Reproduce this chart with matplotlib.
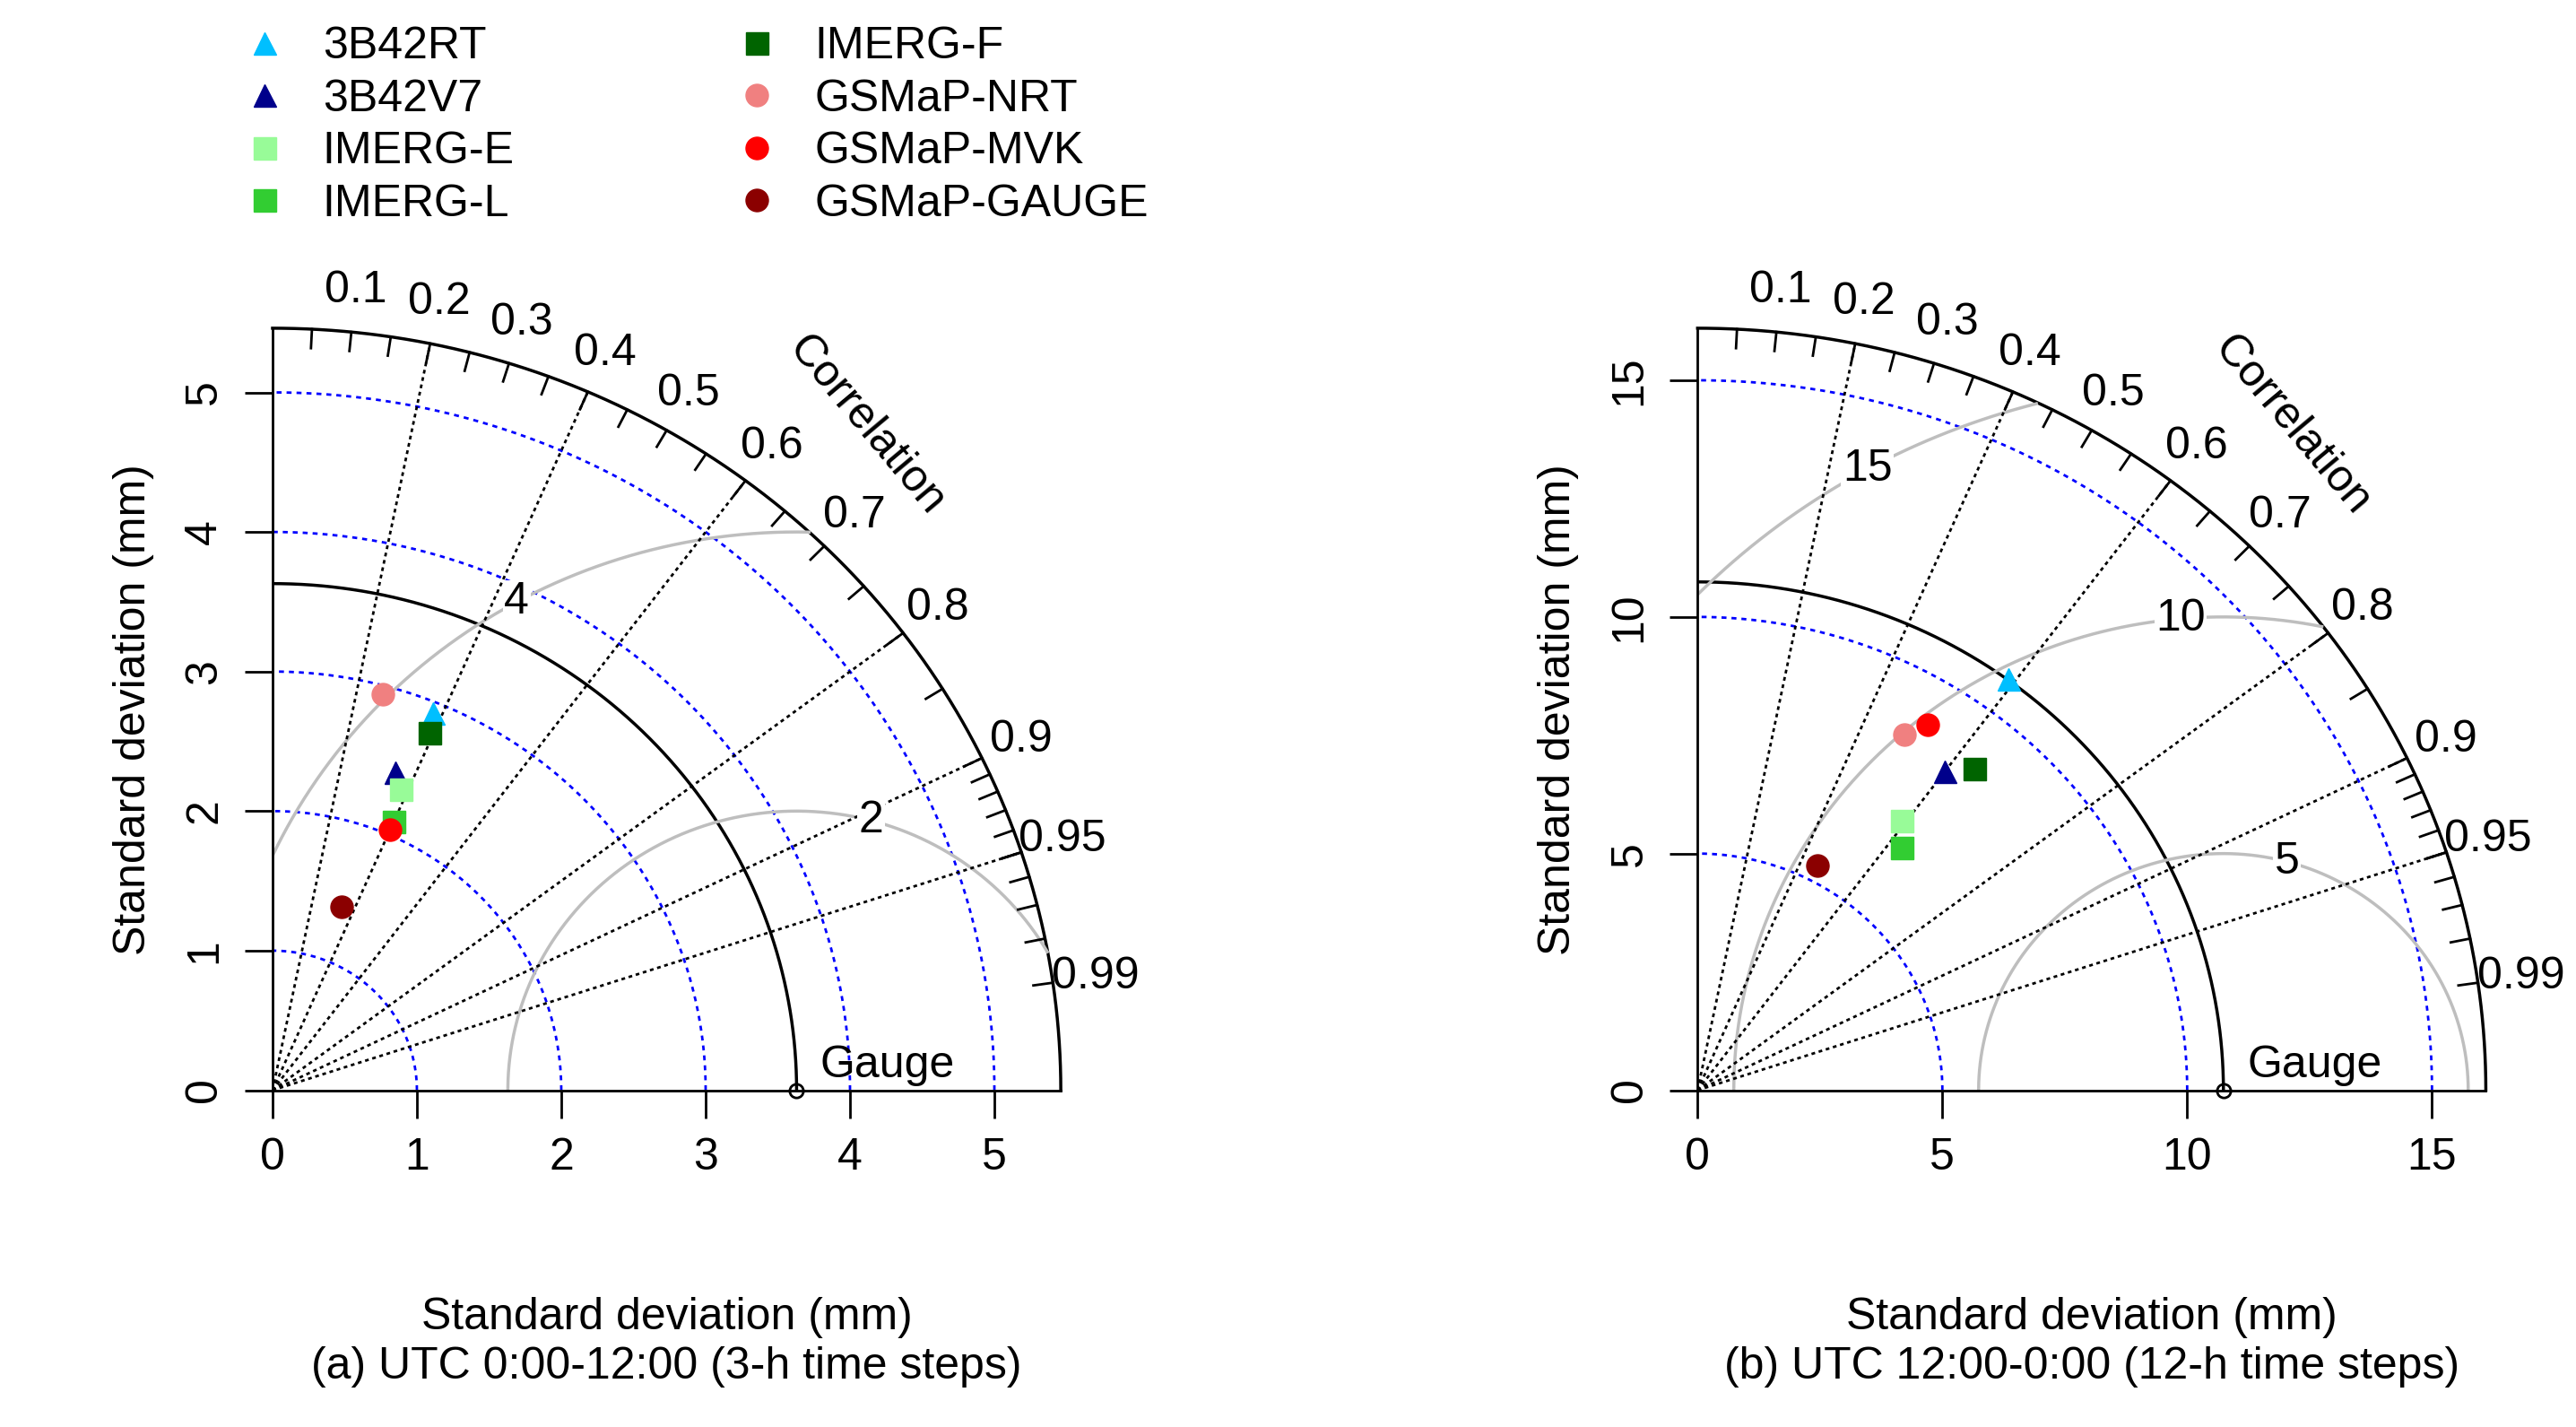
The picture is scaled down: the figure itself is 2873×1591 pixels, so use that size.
import numpy as np
import matplotlib
matplotlib.use("Agg")
import matplotlib.pyplot as plt
from matplotlib.lines import Line2D

plt.rcParams['font.family'] = ['Liberation Sans', 'DejaVu Sans']

names = ["3B42RT", "3B42V7", "IMERG-E", "IMERG-L", "IMERG-F", "GSMaP-NRT", "GSMaP-MVK", "GSMaP-GAUGE"]
colors = ["#00BFFF", "#00008B", "#98FB98", "#32CD32", "#006400", "#F08080", "#FF0000", "#8B0000"]
markers = ["^", "^", "s", "s", "s", "o", "o", "o"]

sd_a = [2.92, 2.43, 2.33, 2.10, 2.78, 2.94, 2.04, 1.40]
r_a = [0.38, 0.35, 0.38, 0.40, 0.39, 0.26, 0.40, 0.34]
ref_a = 3.63
sd_b = [10.76, 8.43, 7.06, 6.61, 8.83, 8.61, 9.05, 5.34]
r_b = [0.59, 0.60, 0.59, 0.63, 0.64, 0.49, 0.52, 0.46]
ref_b = 10.74

panels = [
    dict(sd=sd_a, r=r_a, ref=ref_a, rmax=5.46, ticks=[0, 1, 2, 3, 4, 5], arcs=[1, 2, 3, 4, 5],
         rms=[2, 4], rms_ang=[75, 119], left=0.1058, title="(a) UTC 0:00-12:00 (3-h time steps)"),
    dict(sd=sd_b, r=r_b, ref=ref_b, rmax=16.1, ticks=[0, 5, 10, 15], arcs=[5, 10, 15],
         rms=[5, 10, 15], rms_ang=[75, 95, 119], left=0.659, title="(b) UTC 12:00-0:00 (12-h time steps)"),
]
corr_labels = [0.1, 0.2, 0.3, 0.4, 0.5, 0.6, 0.7, 0.8, 0.9, 0.95, 0.99]
corr_lines = [0.2, 0.4, 0.6, 0.8, 0.9, 0.95]

fig = plt.figure(figsize=(28.73, 15.91), dpi=100)
FS = 36
for p in panels:
    ax = fig.add_axes([p['left'], 0.236, 0.306, 0.534])
    R = p['rmax']
    ax.set_xlim(0, R); ax.set_ylim(0, R)
    ax.spines['top'].set_visible(False); ax.spines['right'].set_visible(False)
    for s in ['left', 'bottom']:
        ax.spines[s].set_linewidth(2)
    ax.set_xticks(p['ticks']); ax.set_yticks(p['ticks'])
    ax.tick_params(labelsize=FS, length=22, width=2, pad=16)
    for lab in ax.get_yticklabels():
        lab.set_rotation(90); lab.set_va('center')
    ax.set_ylabel("Standard deviation (mm)", fontsize=FS, labelpad=24)
    ax.set_xlabel("Standard deviation (mm)\n" + p['title'], fontsize=FS, labelpad=95, linespacing=1.25)
    th = np.linspace(0, np.pi / 2, 400)
    ax.plot(R * np.cos(th), R * np.sin(th), color='black', lw=2.5, clip_on=False)
    ax.plot(p['ref'] * np.cos(th), p['ref'] * np.sin(th), color='black', lw=2.5)
    for a in p['arcs']:
        ax.plot(a * np.cos(th), a * np.sin(th), color='blue', ls=(0, (2, 2)), lw=2)
    for rr, ang in zip(p['rms'], p['rms_ang']):
        t = np.linspace(0, np.pi, 800)
        x = p['ref'] + rr * np.cos(t); y = rr * np.sin(t)
        m = (x >= 0) & (np.hypot(x, y) <= R)
        x = np.where(m, x, np.nan)
        ax.plot(x, y, color='#BEBEBE', lw=2.5)
        lx = p['ref'] + rr * np.cos(np.radians(ang)); ly = rr * np.sin(np.radians(ang))
        ax.text(lx, ly, str(rr), fontsize=FS, ha='center', va='center',
                bbox=dict(fc='white', ec='none', pad=1))
    for c in corr_lines:
        a = np.arccos(c)
        ax.plot([0, R * np.cos(a)], [0, R * np.sin(a)], color='black', ls=(0, (1.5, 1.5)), lw=2)
    for c in corr_labels:
        a = np.arccos(c)
        ax.text(1.055 * R * np.cos(a), 1.055 * R * np.sin(a), f"{c:g}", fontsize=FS, ha='center', va='center')
    for c in list(np.arange(0.05, 1.0, 0.05)) + list(np.arange(0.91, 1.0, 0.01)):
        a = np.arccos(c)
        ax.plot([R * np.cos(a), 0.975 * R * np.cos(a)], [R * np.sin(a), 0.975 * R * np.sin(a)],
                color='black', lw=2, clip_on=False)
    ax.text(0.88 * R * np.cos(np.radians(38)) + 0.06 * R, 0.88 * R * np.sin(np.radians(38)) + 0.33 * R,
            "Correlation", fontsize=FS, rotation=-50, ha='center', va='center')
    ax.plot([p['ref']], [0], 'o', mfc='none', mec='black', ms=11, mew=2, clip_on=False)
    ax.text(p['ref'] + 0.03 * R, 0.005 * R, "Gauge", fontsize=FS, ha='left', va='bottom')
    for sd, r, col, mk in zip(p['sd'], p['r'], colors, markers):
        a = np.arccos(r)
        ax.plot(sd * np.cos(a), sd * np.sin(a), marker=mk, color=col, ms=18, ls='none')

handles = [Line2D([], [], marker=m, color=c, ls='none', ms=18) for m, c in zip(markers, colors)]
fig.legend(handles, names, ncol=2, loc='upper left', bbox_to_anchor=(0.08, 1.01), frameon=False,
           fontsize=FS, handlelength=0.8, handletextpad=0.9, columnspacing=5, labelspacing=0.25)
fig.savefig("out.png", dpi=100)
